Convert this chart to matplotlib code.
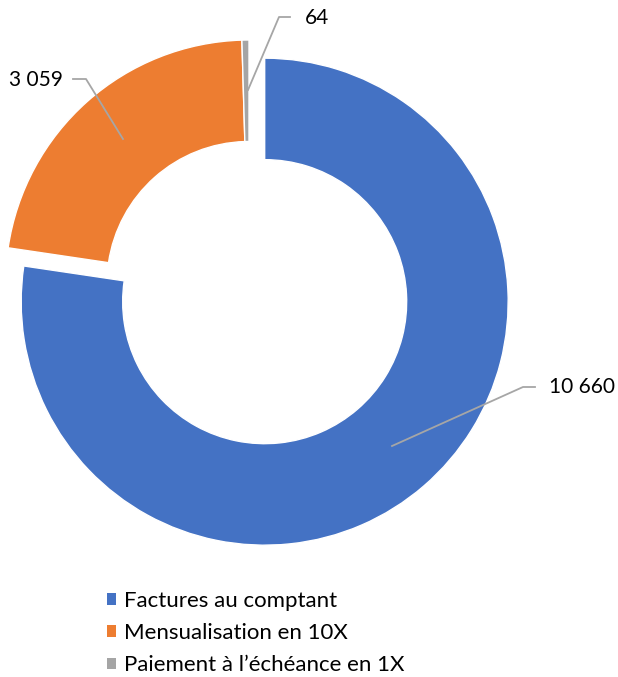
import matplotlib
matplotlib.use("Agg")
import matplotlib.pyplot as plt

categories = ["Factures au comptant", "Mensualisation en 10X", "Paiement à l\u2019échéance en 1X"]
values = [10660, 3059, 64]
value_labels = ["10 660", "3 059", "64"]
colors = ["#4472C4", "#ED7D31", "#A5A5A5"]

W, H = 618, 677
fig = plt.figure(figsize=(W / 100, H / 100), dpi=100)
ax = fig.add_axes([0, 0, 1, 1])

plt.rcParams['font.family'] = ['Lato', 'DejaVu Sans']

R = 243.5
cx, cy = 249, H - 283.5
wedges, _ = ax.pie(values, colors=colors, startangle=90, counterclock=False,
                   radius=R, center=(cx, cy), explode=[24, 0, 0],
                   wedgeprops=dict(width=R - 142, edgecolor="white", linewidth=1.0),
                   frame=True)
ax.set_xlim(0, W)
ax.set_ylim(0, H)
ax.set_aspect("equal")
ax.axis("off")

line_kw = dict(color="#A6A6A6", lw=1.3)
# leader lines (pixel positions, y from top)
leaders = [
    [(392, 446), (523, 387), (535, 387)],
    [(123, 139), (86, 79), (73, 79)],
    [(248, 90), (279, 17), (290, 17)],
]
text_pos = [(549, 387, "left"), (63, 80, "right"), (305, 18, "left")]
for pts, (tx, ty, ha), lab in zip(leaders, text_pos, value_labels):
    xs = [p[0] for p in pts]
    ys = [H - p[1] for p in pts]
    ax.plot(xs, ys, **line_kw)
    ax.text(tx, H - ty, lab, ha=ha, va="center", fontsize=15, color="#000000")

leg = ax.legend(wedges, categories, loc="upper left", frameon=False,
                bbox_to_anchor=(98 / W, 1 - 582 / H), fontsize=16,
                handlelength=0.42, handleheight=0.42, handletextpad=0.35,
                labelspacing=0.55, borderaxespad=0)
for h in leg.legend_handles:
    h.set_edgecolor("none")

fig.savefig("out.png", dpi=100)
